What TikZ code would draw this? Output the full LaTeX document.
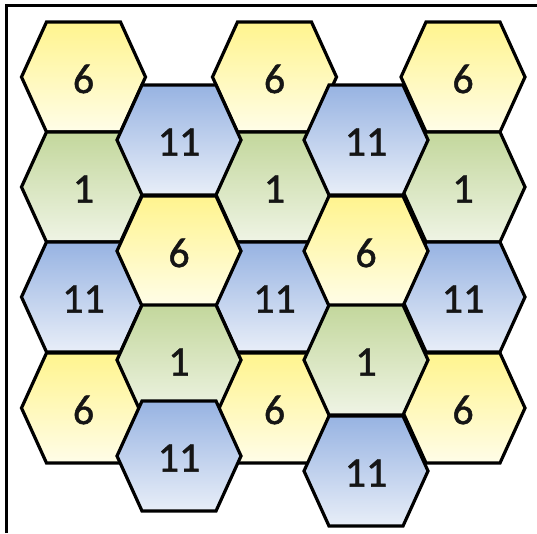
\documentclass[tikz,border=0pt]{standalone}
\usepackage{fontspec}
\setmainfont{Carlito}
\newfontfamily\lblfont{Carlito}[FakeBold=1.1]
\definecolor{yelTop}{HTML}{FFF48E}
\definecolor{yelBot}{HTML}{FFFDE8}
\definecolor{bluTop}{HTML}{97B3E2}
\definecolor{bluBot}{HTML}{E8EEF8}
\definecolor{grnTop}{HTML}{C3D79C}
\definecolor{grnBot}{HTML}{EFF4E5}
\definecolor{txt}{HTML}{151515}
\tikzset{
  hexline/.style={draw=black, line width=3.2pt, line join=miter},
  yel/.style={top color=yelTop, bottom color=yelBot},
  blu/.style={top color=bluTop, bottom color=bluBot},
  grn/.style={top color=grnTop, bottom color=grnBot},
  lbl/.style={text=txt, font=\lblfont\fontsize{42}{48}\selectfont, inner sep=0pt},
  frameline/.style={draw=black, line width=3pt}
}
\newcommand\hexcell[5]{%
  \path[hexline, #4, shift={(#2,#3)}] (-62,0) -- (-37,-55) -- (37,-55) -- (62,0) -- (37,55) -- (-37,55) -- cycle;
  \node[lbl] (#1) at (#2,#3+2) {#5};
}
\begin{document}
\begin{tikzpicture}[x=1pt,y=-1pt]
\useasboundingbox (0,0) rectangle (537,533);
\fill[white] (0,0) rectangle (537,533);
% odd columns
\hexcell{a1}{83.5}{77}{yel}{6}
\hexcell{a2}{83.5}{187}{grn}{1}
\hexcell{a3}{83.5}{297}{blu}{11}
\hexcell{a4}{83.5}{408}{yel}{6}
\hexcell{c1}{274.5}{77}{yel}{6}
\hexcell{c2}{274.5}{187}{grn}{1}
\hexcell{c3}{274.5}{297}{blu}{11}
\hexcell{c4}{274.5}{408}{yel}{6}
\hexcell{e1}{463}{77}{yel}{6}
\hexcell{e2}{463}{187}{grn}{1}
\hexcell{e3}{463}{297}{blu}{11}
\hexcell{e4}{463}{408}{yel}{6}
% even columns
\hexcell{b1}{179}{140}{blu}{11}
\hexcell{b2}{179}{251}{yel}{6}
\hexcell{b3}{179}{360}{grn}{1}
\hexcell{b4}{179}{456}{blu}{11}
\hexcell{d1}{366}{140}{blu}{11}
\hexcell{d2}{366}{251}{yel}{6}
\hexcell{d3}{366}{360}{grn}{1}
\hexcell{d4}{366}{471}{blu}{11}
% frame (left and top only)
\coordinate (fbl) at (6.5,533);
\coordinate (ftl) at (6.5,5.5);
\coordinate (ftr) at (537,5.5);
\draw[frameline] (fbl) -- (ftl) -- (ftr);
\end{tikzpicture}
\end{document}
